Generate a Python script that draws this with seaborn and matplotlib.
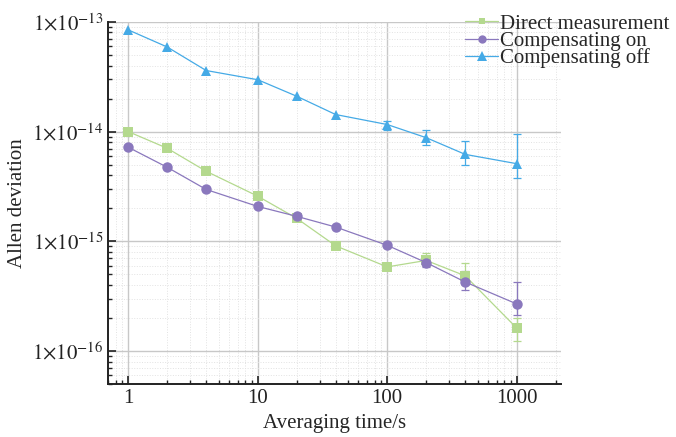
import numpy as np
import pandas as pd
import seaborn as sns
import matplotlib.pyplot as plt
from matplotlib.ticker import LogLocator, FuncFormatter, NullFormatter

# averaging times (s)
tau = [1, 2, 4, 10, 20, 40, 100, 200, 400, 1000]

# Allen deviation values
direct = [1.0e-14, 7.05e-15, 4.35e-15, 2.58e-15, 1.62e-15, 9.1e-16, 5.85e-16, 6.7e-16, 4.85e-16, 1.62e-16]
comp_on = [7.2e-15, 4.73e-15, 2.97e-15, 2.08e-15, 1.69e-15, 1.35e-15, 9.2e-16, 6.4e-16, 4.26e-16, 2.69e-16]
comp_off = [8.45e-14, 5.9e-14, 3.6e-14, 2.97e-14, 2.1e-14, 1.43e-14, 1.16e-14, 8.8e-15, 6.2e-15, 5.1e-15]

# error bar limits (low, high) where the picture shows them
direct_err_x = [200, 400, 1000]
direct_err_lo = [5.9e-16, 4.2e-16, 1.24e-16]
direct_err_hi = [7.9e-16, 6.4e-16, 2.0e-16]
on_err_x = [200, 400, 1000]
on_err_lo = [5.8e-16, 3.6e-16, 2.14e-16]
on_err_hi = [7.0e-16, 5.35e-16, 4.26e-16]
off_err_x = [100, 200, 400, 1000]
off_err_lo = [1.04e-14, 7.5e-15, 5.0e-15, 3.8e-15]
off_err_hi = [1.26e-14, 1.04e-14, 8.2e-15, 9.6e-15]

labels = ["Direct measurement", "Compensating on", "Compensating off"]
colors = ["#b4d98e", "#8a78bd", "#45aae6"]
markers = ["s", "o", "^"]

df = pd.DataFrame({
    "tau": tau * 3,
    "adev": direct + comp_on + comp_off,
    "series": [labels[0]] * 10 + [labels[1]] * 10 + [labels[2]] * 10,
})

sns.set_style("ticks")
plt.rcParams["font.family"] = ["Liberation Serif", "DejaVu Serif"]
plt.rcParams["mathtext.fontset"] = "stix"

fig, ax = plt.subplots(figsize=(6.76, 4.37), dpi=100)
fig.subplots_adjust(left=0.160, right=0.830, top=0.950, bottom=0.121)

ax.set_xscale("log")
ax.set_yscale("log")

sns.lineplot(data=df, x="tau", y="adev", hue="series", style="series",
             hue_order=labels, style_order=labels,
             palette=dict(zip(labels, colors)), markers=dict(zip(labels, markers)),
             dashes=False, markersize=7.5, markeredgewidth=0, linewidth=0.9,
             ax=ax, legend=True)

errs = [(direct_err_x, direct_err_lo, direct_err_hi, direct),
        (on_err_x, on_err_lo, on_err_hi, comp_on),
        (off_err_x, off_err_lo, off_err_hi, comp_off)]
for (ex, lo, hi, vals), c in zip(errs, colors):
    yv = np.array([vals[tau.index(x)] for x in ex])
    yerr = np.array([yv - np.array(lo), np.array(hi) - yv])
    ax.errorbar(ex, yv, yerr=yerr, fmt="none", ecolor=c, elinewidth=0.9,
                capsize=3, capthick=0.9, zorder=1)

ax.set_xlim(0.7, 2200)
ax.set_ylim(5e-17, 1e-13)

ax.xaxis.set_major_locator(LogLocator(base=10, numticks=10))
ax.xaxis.set_minor_locator(LogLocator(base=10, subs=np.arange(2, 10), numticks=10))
ax.yaxis.set_major_locator(LogLocator(base=10, numticks=10))
ax.yaxis.set_minor_locator(LogLocator(base=10, subs=np.arange(2, 10), numticks=10))
ax.xaxis.set_major_formatter(FuncFormatter(lambda v, p: f"{v:g}"))
ax.yaxis.set_major_formatter(
    FuncFormatter(lambda v, p: r"$1{\times}10^{%d}$" % int(round(np.log10(v)))))
ax.xaxis.set_minor_formatter(NullFormatter())
ax.yaxis.set_minor_formatter(NullFormatter())

ax.grid(which="major", color="#c8c8c8", linewidth=1.0, linestyle="-")
ax.grid(which="minor", color="#e2e2e2", linewidth=0.7, linestyle=":")
ax.set_axisbelow(True)

ax.tick_params(which="major", direction="in", length=6, width=1.2, labelsize=15, colors="#222222")
ax.tick_params(which="minor", direction="in", length=3, width=1.0)
for s in ["top", "right"]:
    ax.spines[s].set_visible(False)
for s in ["left", "bottom"]:
    ax.spines[s].set_linewidth(1.4)
    ax.spines[s].set_color("#222222")

ax.set_xlabel("Averaging time/s", fontsize=15, labelpad=4)
ax.set_ylabel("Allen deviation", fontsize=15, labelpad=4)

handles, _ = ax.get_legend_handles_labels()
leg = ax.legend(handles, labels, loc="upper left", bbox_to_anchor=(465 / 676, 0.968),
                bbox_transform=fig.transFigure, frameon=False, fontsize=15,
                handlelength=1.6, handletextpad=0.1, labelspacing=-0.11,
                borderpad=0, borderaxespad=0)
for h, ms in zip(leg.legend_handles, [5, 6, 7]):
    h.set_markersize(ms)

fig.savefig("out.png", dpi=100)
